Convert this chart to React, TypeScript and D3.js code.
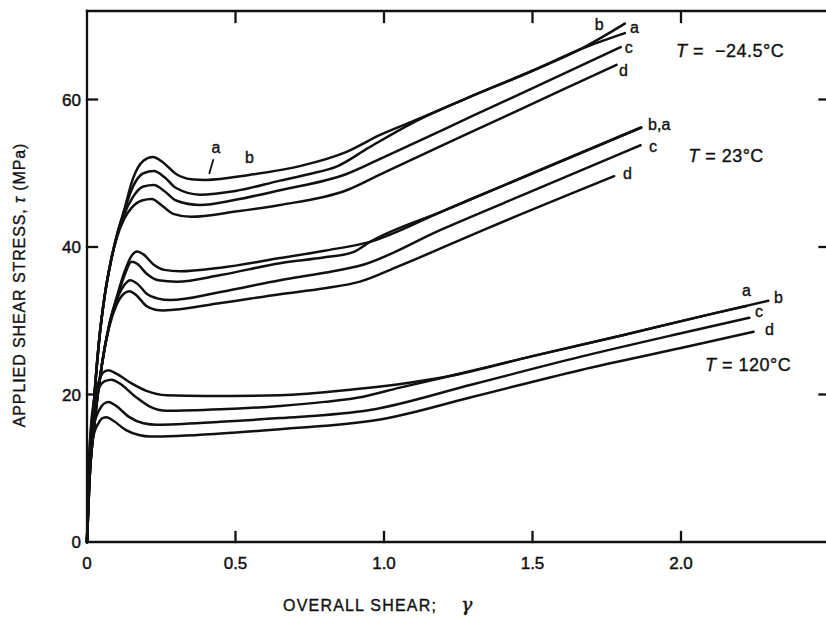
import React from "react";
import * as d3 from "d3";

const width = 826;
const height = 617;

const xTicks = [0, 0.5, 1.0, 1.5, 2.0];
const xTickLabels = ["0", "0.5", "1.0", "1.5", "2.0"];
const yTicks = [0, 20, 40, 60];
const yTickLabels = ["0", "20", "40", "60"];

// T = -24.5 C
const cold_a = [[0, 0], [0.006, 8], [0.02, 17], [0.04, 27], [0.06, 33.5], [0.08, 38], [0.1, 41.5], [0.125, 45], [0.155, 49.3], [0.19, 51.7], [0.222, 52.2], [0.255, 51.5], [0.3, 49.9], [0.35, 49.2], [0.4, 49.1], [0.55, 49.8], [0.72, 51.0], [0.874, 52.9], [0.987, 55.2], [1.1, 57.1], [1.28, 60.2], [1.5, 63.9], [1.66, 66.8], [1.811, 69.0]];
const cold_b = [[0, 0], [0.006, 8], [0.02, 17], [0.04, 27], [0.06, 33.5], [0.08, 38], [0.1, 41.5], [0.125, 44.8], [0.155, 48.2], [0.19, 50.0], [0.225, 50.3], [0.26, 49.5], [0.3, 48.0], [0.38, 47.1], [0.5, 47.6], [0.65, 49.0], [0.75, 49.9], [0.84, 50.9], [0.95, 53.5], [1.1, 56.9], [1.28, 60.2], [1.5, 63.9], [1.66, 66.8], [1.811, 70.3]];
const cold_c = [[0, 0], [0.006, 8], [0.02, 17], [0.04, 27], [0.06, 33.5], [0.08, 38], [0.1, 41.4], [0.125, 44.4], [0.155, 46.8], [0.19, 48.2], [0.225, 48.4], [0.26, 47.6], [0.3, 46.3], [0.38, 45.7], [0.5, 46.4], [0.65, 47.7], [0.874, 49.9], [1.0, 52.2], [1.3, 57.8], [1.6, 63.4], [1.797, 67.1]];
const cold_d = [[0, 0], [0.006, 8], [0.02, 17], [0.04, 27], [0.06, 33.5], [0.08, 38], [0.1, 41.2], [0.125, 43.8], [0.15, 45.3], [0.185, 46.3], [0.218, 46.5], [0.25, 45.7], [0.29, 44.5], [0.35, 44.1], [0.5, 44.8], [0.65, 45.7], [0.874, 47.7], [1.0, 50.1], [1.3, 55.7], [1.6, 61.3], [1.783, 64.7]];

// T = 23 C
const room_a = [[0, 0], [0.008, 8], [0.025, 16], [0.05, 24], [0.075, 29.5], [0.1, 33.2], [0.125, 36.5], [0.15, 38.8], [0.169, 39.4], [0.19, 39.0], [0.225, 37.6], [0.26, 36.9], [0.313, 36.7], [0.45, 37.2], [0.65, 38.5], [0.8, 39.5], [0.953, 40.7], [1.2, 44.9], [1.5, 50.0], [1.866, 56.2]];
const room_b = [[0, 0], [0.008, 8], [0.025, 16], [0.05, 24], [0.075, 29.5], [0.1, 33.0], [0.125, 36.0], [0.15, 38.0], [0.17, 37.7], [0.2, 36.4], [0.24, 35.5], [0.302, 35.3], [0.45, 36.2], [0.65, 37.8], [0.8, 38.6], [0.896, 39.3], [0.953, 40.7], [1.2, 44.9], [1.5, 50.0], [1.866, 56.2]];
const room_c = [[0, 0], [0.008, 8], [0.025, 16], [0.05, 24], [0.075, 29.4], [0.1, 32.8], [0.125, 34.8], [0.145, 35.5], [0.17, 35.0], [0.2, 33.7], [0.24, 33.0], [0.279, 32.8], [0.45, 33.9], [0.65, 35.5], [0.8, 36.5], [0.93, 37.6], [1.189, 42.3], [1.5, 47.6], [1.864, 53.8]];
const room_d = [[0, 0], [0.008, 8], [0.025, 16], [0.05, 24], [0.075, 29.2], [0.1, 32.2], [0.125, 33.7], [0.142, 34.0], [0.165, 33.5], [0.2, 32.0], [0.23, 31.5], [0.256, 31.4], [0.45, 32.4], [0.65, 33.6], [0.8, 34.4], [0.919, 35.3], [1.05, 37.4], [1.334, 42.3], [1.775, 49.6]];

// T = 120 C
const hot_a = [[0, 0], [0.003, 6], [0.008, 12], [0.015, 16.5], [0.025, 19.5], [0.04, 21.8], [0.055, 23.0], [0.072, 23.3], [0.1, 22.8], [0.15, 21.5], [0.2, 20.5], [0.268, 19.9], [0.4, 19.8], [0.65, 19.9], [0.9, 20.7], [1.05, 21.4], [1.21, 22.4], [1.5, 25.2], [1.8, 28.0], [2.1, 30.9], [2.22, 32.0]];
const hot_b = [[0, 0], [0.003, 6], [0.008, 12], [0.015, 16], [0.025, 18.8], [0.04, 20.8], [0.06, 21.8], [0.083, 22.0], [0.11, 21.5], [0.16, 19.8], [0.21, 18.4], [0.268, 17.8], [0.45, 18.0], [0.65, 18.45], [0.8, 19.0], [0.93, 19.7], [1.05, 20.9], [1.2, 22.3], [1.5, 25.2], [1.8, 28.0], [2.1, 30.9], [2.294, 32.7]];
const hot_c = [[0, 0], [0.003, 5], [0.008, 10], [0.015, 13.8], [0.025, 16.2], [0.04, 17.8], [0.055, 18.7], [0.072, 19.0], [0.1, 18.4], [0.14, 17.0], [0.19, 16.1], [0.235, 15.9], [0.45, 16.3], [0.65, 16.8], [0.953, 17.9], [1.3, 21.4], [1.66, 25.1], [2.0, 28.3], [2.23, 30.4]];
const hot_d = [[0, 0], [0.003, 5], [0.008, 9.5], [0.015, 12.8], [0.025, 14.9], [0.04, 16.2], [0.052, 16.8], [0.066, 16.9], [0.09, 16.4], [0.13, 15.2], [0.175, 14.5], [0.212, 14.3], [0.45, 14.7], [0.65, 15.3], [0.987, 16.6], [1.3, 19.7], [1.66, 23.3], [2.0, 26.3], [2.244, 28.5]];

const curves = [cold_a, cold_b, cold_c, cold_d, room_a, room_b, room_c, room_d, hot_a, hot_b, hot_c, hot_d];

// curve letters, anchored in data units
const curveLabels = [
  { text: "b", x: 1.71, y: 69.4 },
  { text: "a", x: 1.828, y: 69.0 },
  { text: "c", x: 1.811, y: 66.3 },
  { text: "d", x: 1.791, y: 63.2 },
  { text: "a", x: 0.419, y: 52.7 },
  { text: "b", x: 0.532, y: 51.4 },
  { text: "b,a", x: 1.889, y: 55.9 },
  { text: "c", x: 1.892, y: 52.9 },
  { text: "d", x: 1.805, y: 49.2 },
  { text: "a", x: 2.205, y: 33.3 },
  { text: "b", x: 2.313, y: 32.4 },
  { text: "c", x: 2.249, y: 30.5 },
  { text: "d", x: 2.283, y: 28.1 },
];
const pointer = [[0.425, 51.8], [0.412, 50.0]];

const tempLabels = [
  { value: "  \u221224.5", x: 1.983, y: 65.8 },
  { value: " 23", x: 2.024, y: 51.5 },
  { value: " 120", x: 2.081, y: 23.2 },
];

const font = "'Liberation Sans', Arial, Helvetica, sans-serif";

export default function App() {
  const x = d3.scaleLinear().domain([0, 2.5]).range([87, 829.5]);
  const y = d3.scaleLinear().domain([0, 72]).range([542, 11]);

  const line = d3
    .line<number[]>()
    .x((d) => x(d[0]))
    .y((d) => y(d[1]))
    .curve(d3.curveMonotoneX);

  const [x0, x1] = x.range();
  const [y0, y1] = y.range();

  return (
    <svg
      width={width}
      height={height}
      style={{ position: "absolute", left: 0, top: 0, background: "#fff" }}
      fontFamily={font}
    >
      {/* frame */}
      <g stroke="#111" strokeWidth={2.3} fill="none" strokeLinecap="square">
        <line x1={x0} x2={x0} y1={y1} y2={y0} />
        <line x1={x0} x2={x1} y1={y0} y2={y0} />
        <line x1={x0} x2={x1} y1={y1} y2={y1} />
        <line x1={x1} x2={x1} y1={y1} y2={y0} />
        {xTicks.slice(1).map((t) => (
          <g key={"xt" + t}>
            <line x1={x(t)} x2={x(t)} y1={y0} y2={y0 - 10} />
            <line x1={x(t)} x2={x(t)} y1={y1 + 2} y2={y1 + 11} />
          </g>
        ))}
        {yTicks.slice(1).map((t) => (
          <g key={"yt" + t}>
            <line x1={x0} x2={x0 + 10} y1={y(t)} y2={y(t)} />
            <line x1={x1} x2={x1 - 10} y1={y(t)} y2={y(t)} />
          </g>
        ))}
      </g>

      {/* tick labels */}
      <g fontSize={17} fill="#111" stroke="#111" strokeWidth={0.45}>
        {xTicks.map((t, i) => (
          <text key={"xl" + t} x={x(t)} y={568.5} textAnchor="middle">
            {xTickLabels[i]}
          </text>
        ))}
        {yTicks.map((t, i) => (
          <text key={"yl" + t} x={81} y={y(t)} dy="0.36em" textAnchor="end">
            {yTickLabels[i]}
          </text>
        ))}
      </g>

      {/* axis titles */}
      <g fill="#111" stroke="#111" strokeWidth={0.35}>
        <text x={283} y={611} fontSize={16} letterSpacing={1.2}>
          OVERALL SHEAR;
          <tspan dx={24} fontFamily="'DejaVu Serif', serif" fontSize={19} fontStyle="italic">
            γ
          </tspan>
        </text>
        <text
          transform={`translate(25,${285}) rotate(-90)`}
          textAnchor="middle"
          fontSize={16}
          letterSpacing={0.9}
        >
          APPLIED SHEAR STRESS, <tspan fontStyle="italic">τ</tspan> (MPa)
        </text>
      </g>

      {/* curves */}
      <g fill="none" stroke="#111" strokeWidth={2.5} strokeLinejoin="round" strokeLinecap="round">
        {curves.map((c, i) => (
          <path key={i} d={line(c) || ""} />
        ))}
        <line x1={x(pointer[0][0])} y1={y(pointer[0][1])} x2={x(pointer[1][0])} y2={y(pointer[1][1])} strokeWidth={1.8} />
      </g>

      {/* labels */}
      <g fontSize={16} fill="#111" stroke="#111" strokeWidth={0.35}>
        {curveLabels.map((l, i) => (
          <text key={i} x={x(l.x)} y={y(l.y)}>
            {l.text}
          </text>
        ))}
      </g>
      <g fontSize={18} fill="#111" letterSpacing={0.5} stroke="#111" strokeWidth={0.35}>
        {tempLabels.map((l, i) => (
          <text key={i} x={x(l.x)} y={y(l.y)} style={{ whiteSpace: "pre" }}>
            <tspan fontStyle="italic">T</tspan>
            {" =" + l.value + "°C"}
          </text>
        ))}
      </g>
    </svg>
  );
}
